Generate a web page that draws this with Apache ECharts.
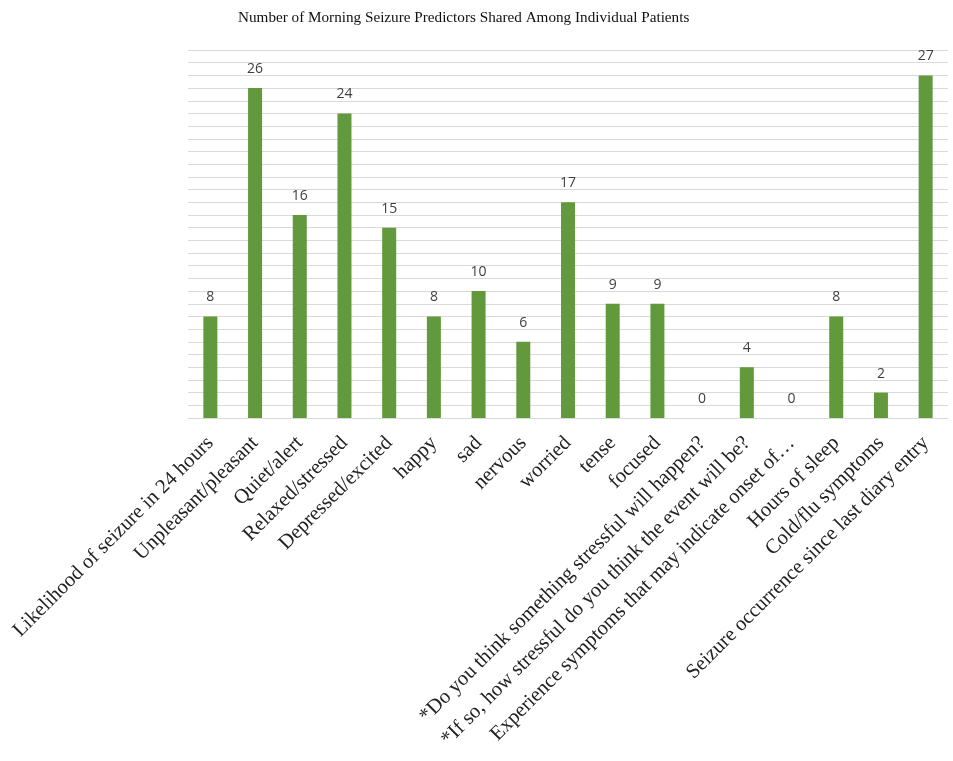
<!DOCTYPE html>
<html><head><meta charset="utf-8">
<script src="https://cdn.jsdelivr.net/npm/echarts@6/dist/echarts.min.js"></script>
<style>html,body{margin:0;padding:0;background:#fff}#c{width:953px;height:761px}</style>
</head><body><div id="c"></div>
<script>
const title = 'Number of Morning Seizure Predictors Shared Among Individual Patients';
const categories = [
  'Likelihood of seizure in 24 hours',
  'Unpleasant/pleasant',
  'Quiet/alert',
  'Relaxed/stressed',
  'Depressed/excited',
  'happy',
  'sad',
  'nervous',
  'worried',
  'tense',
  'focused',
  '*Do you think something stressful will happen?',
  '*If so, how stressful do you think the event will be?',
  'Experience symptoms that may indicate onset of\u2026',
  'Hours of sleep',
  'Cold/flu symptoms',
  'Seizure occurrence since last diary entry'
];
const values = [8, 26, 16, 24, 15, 8, 10, 6, 17, 9, 9, 0, 4, 0, 8, 2, 27];

const chart = echarts.init(document.getElementById('c'), null, {renderer: 'canvas'});
chart.setOption({
  animation: false,
  backgroundColor: '#fff',
  title: {
    text: title, left: 233, top: 6,
    textStyle: {fontFamily: 'Liberation Serif', fontSize: 15.2, fontWeight: 'normal', color: '#111'}
  },
  grid: {left: 188, right: 5, top: 50, bottom: 343, containLabel: false},
  xAxis: {
    type: 'category', data: categories,
    axisLine: {lineStyle: {color: '#d9d9d9', width: 1}},
    axisTick: {show: false},
    axisLabel: {
      interval: 0, rotate: 45, margin: 22,
      fontFamily: 'Liberation Serif', fontSize: 20.6, color: '#222'
    }
  },
  yAxis: {
    type: 'value', min: 0, max: 29, interval: 1,
    axisLabel: {show: false}, axisLine: {show: false}, axisTick: {show: false},
    splitLine: {lineStyle: {color: '#d9d9d9', width: 1}}
  },
  series: [{
    type: 'bar', data: values, barWidth: 14,
    itemStyle: {color: '#62993c'},
    label: {
      show: true, position: 'top', distance: 12,
      fontFamily: 'Open Sans', fontSize: 14, color: '#404040'
    }
  }]
});
</script></body></html>
